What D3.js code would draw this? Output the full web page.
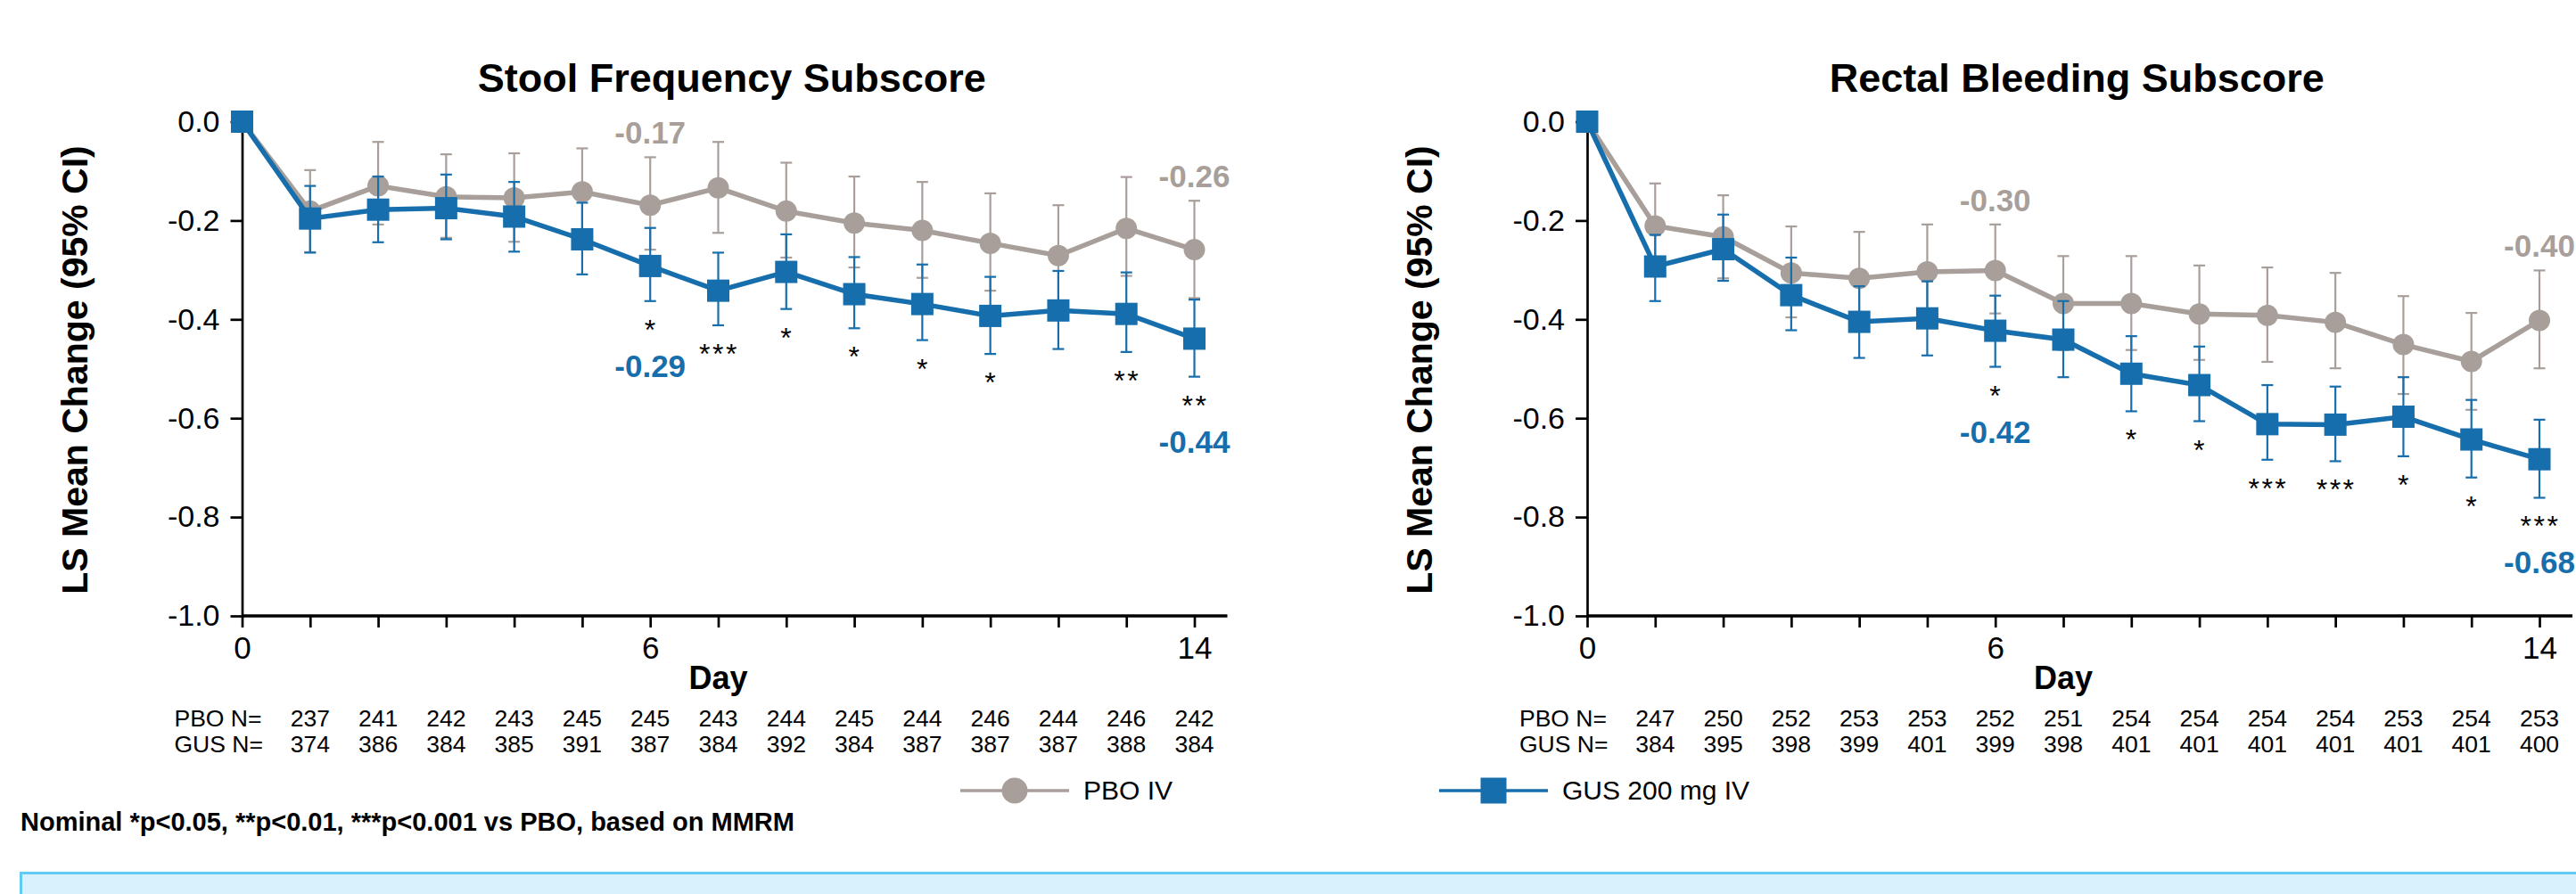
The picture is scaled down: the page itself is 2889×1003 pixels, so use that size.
<!DOCTYPE html>
<html>
<head>
<meta charset="utf-8">
<script src="https://cdn.jsdelivr.net/npm/d3@7"></script>
<style>
  body { margin: 0; background: #fff; }
  svg { display: block; font-family: "Liberation Sans", Arial, sans-serif; }
</style>
</head>
<body>
<svg id="chart" width="2889" height="1003"></svg>
<script>
// Days on the x axis
const days = [0, 1, 2, 3, 4, 5, 6, 7, 8, 9, 10, 11, 12, 13, 14];
const yTicks = [0, -0.2, -0.4, -0.6, -0.8, -1.0];
const xLabelDays = [0, 6, 14];

// Stool frequency subscore (LS mean change, 95% CI)
const sfPboMean = [0, -0.181, -0.130, -0.152, -0.154, -0.142, -0.169, -0.134, -0.181, -0.205, -0.220, -0.246, -0.271, -0.216, -0.259];
const sfPboLo   = [null, -0.264, -0.208, -0.235, -0.243, -0.228, -0.259, -0.225, -0.275, -0.295, -0.316, -0.342, -0.372, -0.312, -0.357];
const sfPboHi   = [null, -0.098, -0.041, -0.066, -0.064, -0.054, -0.072, -0.041, -0.083, -0.111, -0.122, -0.145, -0.169, -0.112, -0.160];
const sfGusMean = [0, -0.196, -0.178, -0.175, -0.192, -0.238, -0.292, -0.342, -0.304, -0.349, -0.369, -0.393, -0.382, -0.389, -0.439];
const sfGusLo   = [null, -0.265, -0.244, -0.238, -0.263, -0.309, -0.363, -0.412, -0.379, -0.418, -0.442, -0.470, -0.460, -0.466, -0.516];
const sfGusHi   = [null, -0.130, -0.111, -0.107, -0.122, -0.164, -0.215, -0.265, -0.228, -0.274, -0.289, -0.314, -0.302, -0.305, -0.360];
const sfStars   = ["", "", "", "", "", "", "*", "***", "*", "*", "*", "*", "", "**", "**"];
const sfPboN    = [237, 241, 242, 243, 245, 245, 243, 244, 245, 244, 246, 244, 246, 242];
const sfGusN    = [374, 386, 384, 385, 391, 387, 384, 392, 384, 387, 387, 387, 388, 384];

// Rectal bleeding subscore
const rbPboMean = [0, -0.211, -0.233, -0.306, -0.317, -0.304, -0.301, -0.368, -0.368, -0.389, -0.392, -0.406, -0.451, -0.485, -0.402];
const rbPboLo   = [null, -0.297, -0.317, -0.396, -0.411, -0.400, -0.388, -0.462, -0.462, -0.482, -0.486, -0.499, -0.551, -0.583, -0.499];
const rbPboHi   = [null, -0.125, -0.149, -0.212, -0.223, -0.208, -0.208, -0.272, -0.272, -0.291, -0.295, -0.306, -0.353, -0.387, -0.301];
const rbGusMean = [0, -0.293, -0.258, -0.351, -0.405, -0.398, -0.423, -0.441, -0.510, -0.533, -0.612, -0.613, -0.597, -0.643, -0.683];
const rbGusLo   = [null, -0.363, -0.322, -0.422, -0.478, -0.473, -0.496, -0.517, -0.586, -0.606, -0.684, -0.687, -0.677, -0.720, -0.761];
const rbGusHi   = [null, -0.229, -0.188, -0.275, -0.333, -0.323, -0.352, -0.363, -0.434, -0.455, -0.533, -0.536, -0.517, -0.563, -0.603];
const rbStars   = ["", "", "", "", "", "", "*", "", "*", "*", "***", "***", "*", "*", "***"];
const rbPboN    = [247, 250, 252, 253, 253, 252, 251, 254, 254, 254, 254, 253, 254, 253];
const rbGusN    = [384, 395, 398, 399, 401, 399, 398, 401, 401, 401, 401, 401, 401, 400];

// Days whose values get a printed label
const labelDays = [6, 14];

const gray = "#a89f9a";
const blue = "#176eac";

const svg = d3.select("#chart");
const plotWidth = 1068;
const plotTop = 136.5, plotBottom = 691;

const y = d3.scaleLinear().domain([-1, 0]).range([plotBottom, plotTop]);
const fmt = v => v.toFixed(2);

function drawPanel(left, title, pbo, gus, stars, pboN, gusN) {
    const x = d3.scaleLinear().domain([0, 14]).range([0, plotWidth]);
    const g = svg.append("g").attr("transform", `translate(${left},0)`);

    // Title
    g.append("text")
        .attr("x", x(7.2))
        .attr("y", 103)
        .attr("text-anchor", "middle")
        .style("font-size", "45px")
        .style("font-weight", "bold")
        .text(title);

    // Y axis label
    g.append("text")
        .attr("transform", "rotate(-90)")
        .attr("x", -415)
        .attr("y", -188)
        .attr("dy", "0.35em")
        .attr("text-anchor", "middle")
        .style("font-size", "41px")
        .style("font-weight", "bold")
        .text("LS Mean Change (95% CI)");

    // Y axis
    const yAxis = g.append("g")
        .call(d3.axisLeft(y).tickValues(yTicks).tickSize(13).tickSizeOuter(0).tickPadding(12)
            .tickFormat(d => d.toFixed(1)));
    yAxis.select(".domain").attr("stroke-width", 2.7);
    yAxis.selectAll(".tick line").attr("stroke-width", 2.7);
    yAxis.selectAll(".tick text").style("font-size", "34px").attr("fill", "#000");

    // X axis
    const xAxis = g.append("g")
        .attr("transform", `translate(0,${plotBottom})`)
        .call(d3.axisBottom(x).tickValues(days).tickSize(13).tickPadding(10)
            .tickFormat(d => xLabelDays.includes(d) ? d : ""));
    xAxis.select(".domain").remove();
    xAxis.selectAll(".tick line").attr("stroke-width", 2.7);
    xAxis.selectAll(".tick text").style("font-size", "35px").attr("fill", "#000");
    g.append("line")
        .attr("x1", x(0)).attr("x2", x(14.485))
        .attr("y1", plotBottom).attr("y2", plotBottom)
        .attr("stroke", "#000").attr("stroke-width", 3.3);

    g.append("text")
        .attr("x", x(7))
        .attr("y", 773)
        .attr("text-anchor", "middle")
        .style("font-size", "36px")
        .style("font-weight", "bold")
        .text("Day");

    // N table
    const rows = [["PBO N=", pboN, 815], ["GUS N=", gusN, 844]];
    rows.forEach(([name, vals, yy]) => {
        g.append("text")
            .attr("x", -76)
            .attr("y", yy)
            .style("font-size", "26.5px")
            .text(name);
        g.selectAll(null)
            .data(vals)
            .enter()
            .append("text")
            .attr("x", (d, i) => x(i + 1))
            .attr("y", yy)
            .attr("text-anchor", "middle")
            .style("font-size", "26.5px")
            .text(d => d);
    });

    // Series
    const series = [
        { data: pbo, color: gray, shape: "circle" },
        { data: gus, color: blue, shape: "square" }
    ];

    series.forEach(s => {
        const pts = days.map((d, i) => ({ day: d, mean: s.data.mean[i], lo: s.data.lo[i], hi: s.data.hi[i] }));
        const bars = pts.filter(p => p.lo !== null);

        const eb = g.append("g").attr("stroke", s.color).attr("stroke-width", 2.2);
        eb.selectAll(".v").data(bars).enter().append("line")
            .attr("x1", p => x(p.day)).attr("x2", p => x(p.day))
            .attr("y1", p => y(p.lo)).attr("y2", p => y(p.hi));
        ["lo", "hi"].forEach(k => {
            eb.selectAll(".c" + k).data(bars).enter().append("line")
                .attr("x1", p => x(p.day) - 6.5).attr("x2", p => x(p.day) + 6.5)
                .attr("y1", p => y(p[k])).attr("y2", p => y(p[k]));
        });

        g.append("path")
            .datum(pts)
            .attr("fill", "none")
            .attr("stroke", s.color)
            .attr("stroke-width", 5.5)
            .attr("d", d3.line().x(p => x(p.day)).y(p => y(p.mean)));

        if (s.shape === "circle") {
            g.selectAll(null).data(pts).enter().append("circle")
                .attr("cx", p => x(p.day)).attr("cy", p => y(p.mean))
                .attr("r", 12).attr("fill", s.color);
        } else {
            g.selectAll(null).data(pts).enter().append("rect")
                .attr("x", p => x(p.day) - 12.5).attr("y", p => y(p.mean) - 12.5)
                .attr("width", 25).attr("height", 25).attr("fill", s.color);
        }
    });

    // Significance stars under GUS lower CI
    g.selectAll(null)
        .data(days.filter(d => stars[d] !== ""))
        .enter()
        .append("text")
        .attr("x", d => x(d) + 1)
        .attr("y", d => y(gus.lo[d]) + 26 + 17)
        .attr("text-anchor", "middle")
        .style("font-size", "32px")
        .style("letter-spacing", "2.5px")
        .text(d => stars[d]);

    // Value labels
    labelDays.forEach(d => {
        g.append("text")
            .attr("x", x(d))
            .attr("y", y(pbo.hi[d]) - 15)
            .attr("text-anchor", "middle")
            .attr("fill", gray)
            .style("font-size", "35px")
            .style("font-weight", "bold")
            .text(fmt(pbo.mean[d]));
        g.append("text")
            .attr("x", x(d))
            .attr("y", y(gus.lo[d]) + 85)
            .attr("text-anchor", "middle")
            .attr("fill", blue)
            .style("font-size", "35px")
            .style("font-weight", "bold")
            .text(fmt(gus.mean[d]));
    });
}

drawPanel(271.5, "Stool Frequency Subscore",
    { mean: sfPboMean, lo: sfPboLo, hi: sfPboHi },
    { mean: sfGusMean, lo: sfGusLo, hi: sfGusHi },
    sfStars, sfPboN, sfGusN);

drawPanel(1780, "Rectal Bleeding Subscore",
    { mean: rbPboMean, lo: rbPboLo, hi: rbPboHi },
    { mean: rbGusMean, lo: rbGusLo, hi: rbGusHi },
    rbStars, rbPboN, rbGusN);

// Legend
const legend = [
    { name: "PBO IV", color: gray, shape: "circle", x: 1077 },
    { name: "GUS 200 mg IV", color: blue, shape: "square", x: 1614 }
];
legend.forEach(l => {
    const lg = svg.append("g").attr("transform", `translate(${l.x},887)`);
    lg.append("line").attr("x1", 0).attr("x2", 122).attr("stroke", l.color).attr("stroke-width", 3.5);
    if (l.shape === "circle") {
        lg.append("ellipse").attr("cx", 61).attr("rx", 14.5).attr("ry", 14.5).attr("fill", l.color);
    } else {
        lg.append("rect").attr("x", 46.5).attr("y", -14.5).attr("width", 29).attr("height", 29).attr("fill", l.color);
    }
    lg.append("text")
        .attr("x", 138)
        .attr("y", 10)
        .style("font-size", "30px")
        .text(l.name);
});

// Footnote
svg.append("text")
    .attr("x", 23)
    .attr("y", 932)
    .style("font-size", "29px")
    .style("font-weight", "bold")
    .text("Nominal *p<0.05, **p<0.01, ***p<0.001 vs PBO, based on MMRM");

// Bottom info box
svg.append("rect")
    .attr("x", 23.5)
    .attr("y", 979.5)
    .attr("width", 2900)
    .attr("height", 60)
    .attr("fill", "#d9f1fc")
    .attr("stroke", "#62cbf5")
    .attr("stroke-width", 3);
</script>
</body>
</html>
